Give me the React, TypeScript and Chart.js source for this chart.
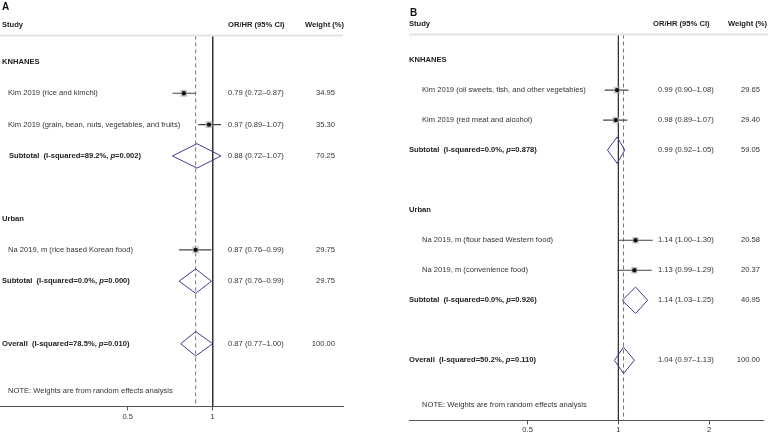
import React, { useEffect, useRef } from "react";
import { Chart, registerables } from "chart.js";
Chart.register(...registerables);

// ---------- Panel A data ----------
const groupsA = ["KNHANES", "Urban"];
const studyGroupA = [0, 0, 1];
const studiesA = [
  "Kim 2019 (rice and kimchi)",
  "Kim 2019 (grain, bean, nuts, vegetables, and fruits)",
  "Na 2019, m (rice based Korean food)",
];
const orA = [0.79, 0.97, 0.87];
const lowA = [0.72, 0.89, 0.76];
const highA = [0.87, 1.07, 0.99];
const weightA = [34.95, 35.3, 29.75];
const subI2A = ["89.2%", "0.0%"];
const subPA = ["0.002", "0.000"];
const subOrA = [0.88, 0.87];
const subLowA = [0.72, 0.76];
const subHighA = [1.07, 0.99];
const subWeightA = [70.25, 29.75];
const overallA = [0.87, 0.77, 1.0];
const overallI2A = "78.5%";
const overallPA = "0.010";
const overallWeightA = 100;
const xTicksA = [0.5, 1];

// ---------- Panel B data ----------
const groupsB = ["KNHANES", "Urban"];
const studyGroupB = [0, 0, 1, 1];
const studiesB = [
  "Kim 2019 (oil sweets, fish, and other vegetables)",
  "Kim 2019 (red meat and alcohol)",
  "Na 2019, m (flour based Western food)",
  "Na 2019, m (convenience food)",
];
const orB = [0.99, 0.98, 1.14, 1.13];
const lowB = [0.9, 0.89, 1.0, 0.99];
const highB = [1.08, 1.07, 1.3, 1.29];
const weightB = [29.65, 29.4, 20.58, 20.37];
const subI2B = ["0.0%", "0.0%"];
const subPB = ["0.878", "0.926"];
const subOrB = [0.99, 1.14];
const subLowB = [0.92, 1.03];
const subHighB = [1.05, 1.25];
const subWeightB = [59.05, 40.95];
const overallB = [1.04, 0.97, 1.13];
const overallI2B = "50.2%";
const overallPB = "0.110";
const overallWeightB = 100;
const xTicksB = [0.5, 1, 2];

const noteText = "NOTE: Weights are from random effects analysis";

const FAM = '"Liberation Sans", Arial, Helvetica, sans-serif';
const FS = 7.6;

type Style = {
  letter: string;
  letterY: number;
  letterX: number;
  padLeft: number;
  padRight: number;
  padBottom: number;
  tickPad: number;
  yMin: number;
  xMin: number;
  xMax: number;
  groupX: number;
  studyX: number;
  subX: number[];
  overallX: number;
  noteX: number;
  headOrX: number;
  orX: number;
  headWX: number;
  wRightX: number;
  diamondH: number;
  lineExtra: number;
};

type Data = {
  groups: string[];
  studyGroup: number[];
  studies: string[];
  or: number[];
  low: number[];
  high: number[];
  weight: number[];
  subI2: string[];
  subP: string[];
  subOr: number[];
  subLow: number[];
  subHigh: number[];
  subWeight: number[];
  overall: number[];
  overallI2: string;
  overallP: string;
  overallWeight: number;
  ticks: number[];
};

const fmtCI = (o: number, l: number, h: number) =>
  `${o.toFixed(2)} (${l.toFixed(2)}\u2013${h.toFixed(2)})`;

function buildConfig(d: Data, s: Style): any {
  const studyRows: number[] = [];
  const groupRows: number[] = [];
  const subRows: number[] = [];
  let r = 0;
  d.groups.forEach((_, gi) => {
    groupRows.push(r);
    r++;
    d.studyGroup.forEach((sg, si) => {
      if (sg === gi) {
        studyRows[si] = r;
        r++;
      }
    });
    subRows.push(r);
    r++;
    r++;
  });
  const overallRow = r;
  r++;
  const noteRow = r + 0.5;
  const axisRow = r + 1;
  const headRow = -1.2;
  const headLineRow = -0.85;

  const datasets: any[] = [];
  datasets.push({
    data: d.or.map((v, i) => ({ x: v, y: studyRows[i] })),
    pointStyle: "circle",
    pointRadius: 2.2,
    backgroundColor: "#111",
    borderWidth: 0,
    order: 0,
  });
  datasets.push({
    data: d.or.map((v, i) => ({ x: v, y: studyRows[i] })),
    pointStyle: "rect",
    pointRadius: d.weight.map((w) => 4 + 0.025 * w),
    backgroundColor: "rgba(175,175,175,0.7)",
    borderWidth: 0,
    order: 1,
  });
  d.or.forEach((_, i) => {
    datasets.push({
      data: [
        { x: d.low[i], y: studyRows[i] },
        { x: d.high[i], y: studyRows[i] },
      ],
      showLine: true,
      pointRadius: 0,
      borderColor: "#444",
      borderWidth: 1.1,
      order: 2,
    });
  });
  const diamond = (o: number, l: number, h: number, row: number) => ({
    data: [
      { x: l, y: row },
      { x: o, y: row - s.diamondH },
      { x: h, y: row },
      { x: o, y: row + s.diamondH },
      { x: l, y: row },
    ],
    showLine: true,
    pointRadius: 0,
    borderColor: "#3e3e8e",
    borderWidth: 1,
    fill: false,
    tension: 0,
    order: 2,
  });
  d.subOr.forEach((o, i) => datasets.push(diamond(o, d.subLow[i], d.subHigh[i], subRows[i])));
  datasets.push(diamond(d.overall[0], d.overall[1], d.overall[2], overallRow));
  datasets.push({
    data: [
      { x: 1, y: headLineRow },
      { x: 1, y: axisRow },
    ],
    showLine: true,
    pointRadius: 0,
    borderColor: "#333",
    borderWidth: 1,
    order: 4,
  });
  datasets.push({
    data: [
      { x: d.overall[0], y: headLineRow },
      { x: d.overall[0], y: axisRow },
    ],
    showLine: true,
    pointRadius: 0,
    borderColor: "#d04a60",
    borderWidth: 1,
    borderDash: [4, 3],
    order: 3,
  });

  const textPlugin = {
    id: "forestText",
    afterDraw(chart: any) {
      const ctx = chart.ctx;
      const ya = chart.scales.y;
      const L = chart.chartArea.left;
      const R = chart.chartArea.right;
      const nf = `${FS}px ${FAM}`;
      const bf = `bold ${FS}px ${FAM}`;
      const bif = `italic bold ${FS}px ${FAM}`;
      const drawSegs = (x: number, y: number, segs: [string, string][], color: string) => {
        ctx.fillStyle = color;
        ctx.textBaseline = "middle";
        ctx.textAlign = "left";
        let cx = x;
        segs.forEach(([t, f]) => {
          ctx.font = f;
          ctx.fillText(t, cx, y);
          cx += ctx.measureText(t).width;
        });
      };
      const txt = (t: string, x: number, y: number, f: string, align = "left", color = "#333") => {
        ctx.font = f;
        ctx.fillStyle = color;
        ctx.textBaseline = "middle";
        ctx.textAlign = align;
        ctx.fillText(t, x, y);
      };
      ctx.save();
      txt(s.letter, s.letterX, s.letterY, `bold 10px ${FAM}`, "left", "#111");
      const hy = ya.getPixelForValue(headRow);
      txt("Study", L + s.groupX, hy, bf, "left", "#222");
      txt("OR/HR (95% CI)", L + s.headOrX, hy, bf, "left", "#222");
      txt("Weight (%)", L + s.headWX, hy, bf, "left", "#222");
      const ly = ya.getPixelForValue(headLineRow);
      ctx.strokeStyle = "#e4e4e4";
      ctx.lineWidth = 2;
      ctx.beginPath();
      ctx.moveTo(L, ly);
      ctx.lineTo(R + s.lineExtra, ly);
      ctx.stroke();
      d.groups.forEach((g, gi) => {
        txt(g, L + s.groupX, ya.getPixelForValue(groupRows[gi]), bf, "left", "#222");
      });
      d.studies.forEach((st, i) => {
        const y = ya.getPixelForValue(studyRows[i]);
        txt(st, L + s.studyX, y, nf);
        txt(fmtCI(d.or[i], d.low[i], d.high[i]), L + s.orX, y, nf);
        txt(d.weight[i].toFixed(2), L + s.wRightX, y, nf, "right");
      });
      d.subOr.forEach((o, i) => {
        const y = ya.getPixelForValue(subRows[i]);
        drawSegs(
          L + s.subX[i],
          y,
          [
            [`Subtotal  (I-squared=${d.subI2[i]}, `, bf],
            ["p", bif],
            [`=${d.subP[i]})`, bf],
          ],
          "#222"
        );
        txt(fmtCI(o, d.subLow[i], d.subHigh[i]), L + s.orX, y, nf);
        txt(d.subWeight[i].toFixed(2), L + s.wRightX, y, nf, "right");
      });
      const oy = ya.getPixelForValue(overallRow);
      drawSegs(
        L + s.overallX,
        oy,
        [
          [`Overall  (I-squared=${d.overallI2}, `, bf],
          ["p", bif],
          [`=${d.overallP})`, bf],
        ],
        "#222"
      );
      txt(fmtCI(d.overall[0], d.overall[1], d.overall[2]), L + s.orX, oy, nf);
      txt(d.overallWeight.toFixed(2), L + s.wRightX, oy, nf, "right");
      txt(noteText, L + s.noteX, ya.getPixelForValue(noteRow), nf);
      ctx.restore();
    },
  };

  return {
    type: "scatter",
    data: { datasets },
    options: {
      animation: false,
      responsive: false,
      events: [],
      layout: {
        autoPadding: false,
        padding: { left: s.padLeft, right: s.padRight, top: 0, bottom: s.padBottom },
      },
      plugins: { legend: { display: false }, tooltip: { enabled: false } },
      scales: {
        x: {
          type: "logarithmic",
          min: s.xMin,
          max: s.xMax,
          afterBuildTicks: (sc: any) => {
            sc.ticks = d.ticks.map((v) => ({ value: v }));
          },
          ticks: {
            callback: (v: any) => String(v),
            font: { size: FS, family: FAM },
            color: "#333",
            padding: s.tickPad,
            autoSkip: false,
            maxRotation: 0,
          },
          grid: {
            drawOnChartArea: false,
            drawTicks: true,
            tickLength: 4,
            tickColor: "#555",
          },
          border: { display: true, color: "#555", width: 1 },
        },
        y: {
          type: "linear",
          display: false,
          reverse: true,
          min: s.yMin,
          max: axisRow,
        },
      },
    },
    plugins: [textPlugin],
  };
}

const styleA: Style = {
  letter: "A",
  letterX: 2,
  letterY: 7,
  padLeft: 0,
  padRight: 43,
  padBottom: 10.5,
  tickPad: 2,
  yMin: -1.98,
  xMin: 0.1764,
  xMax: 2.894,
  groupX: 2,
  studyX: 8,
  subX: [9, 2],
  overallX: 2,
  noteX: 8,
  headOrX: 228,
  orX: 228,
  headWX: 305,
  wRightX: 335,
  diamondH: 0.39,
  lineExtra: 0,
};

const styleB: Style = {
  letter: "B",
  letterX: 24,
  letterY: 13,
  padLeft: 23,
  padRight: 9,
  padBottom: -1.5,
  tickPad: 1,
  yMin: -2,
  xMin: 0.202,
  xMax: 3.018,
  groupX: 0,
  studyX: 13,
  subX: [0, 0],
  overallX: 0,
  noteX: 13,
  headOrX: 244,
  orX: 249,
  headWX: 319,
  wRightX: 351,
  diamondH: 0.44,
  lineExtra: 5,
};

const dataA: Data = {
  groups: groupsA,
  studyGroup: studyGroupA,
  studies: studiesA,
  or: orA,
  low: lowA,
  high: highA,
  weight: weightA,
  subI2: subI2A,
  subP: subPA,
  subOr: subOrA,
  subLow: subLowA,
  subHigh: subHighA,
  subWeight: subWeightA,
  overall: overallA,
  overallI2: overallI2A,
  overallP: overallPA,
  overallWeight: overallWeightA,
  ticks: xTicksA,
};

const dataB: Data = {
  groups: groupsB,
  studyGroup: studyGroupB,
  studies: studiesB,
  or: orB,
  low: lowB,
  high: highB,
  weight: weightB,
  subI2: subI2B,
  subP: subPB,
  subOr: subOrB,
  subLow: subLowB,
  subHigh: subHighB,
  subWeight: subWeightB,
  overall: overallB,
  overallI2: overallI2B,
  overallP: overallPB,
  overallWeight: overallWeightB,
  ticks: xTicksB,
};

function Panel({ data, style, left }: { data: Data; style: Style; left: number }) {
  const ref = useRef<HTMLCanvasElement | null>(null);
  useEffect(() => {
    if (!ref.current) return;
    const chart = new Chart(ref.current, buildConfig(data, style));
    return () => chart.destroy();
  }, []);
  return (
    <canvas
      ref={ref}
      width={386}
      height={434}
      style={{ position: "absolute", left, top: 0, width: 386, height: 434 }}
    />
  );
}

export default function App() {
  return (
    <div
      style={{
        position: "fixed",
        left: 0,
        top: 0,
        width: 772,
        height: 434,
        background: "#fff",
        overflow: "hidden",
      }}
    >
      <Panel data={dataA} style={styleA} left={0} />
      <Panel data={dataB} style={styleB} left={386} />
    </div>
  );
}
